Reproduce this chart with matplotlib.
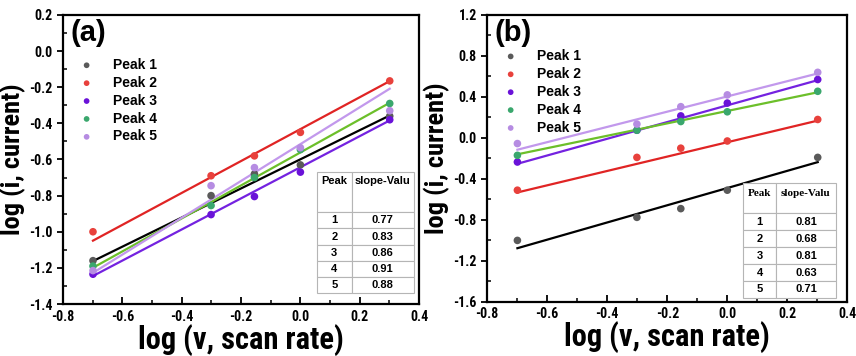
import numpy as np
import matplotlib
matplotlib.use('Agg')
import matplotlib.pyplot as plt

NARROW = ['Roboto Condensed', 'DejaVu Sans']
SANS = ['Liberation Sans', 'DejaVu Sans']
plt.rcParams['font.family'] = NARROW
plt.rcParams['font.weight'] = 'bold'

# scan rates (V/s) -> log
scan_rate = np.array([0.2, 0.5, 0.7, 1.0, 2.0])
log_v = np.log10(scan_rate)

peaks = ['Peak 1', 'Peak 2', 'Peak 3', 'Peak 4', 'Peak 5']

# panel (a) log(i)
a_peak1 = [-1.16, -0.80, -0.68, -0.63, -0.36]
a_peak2 = [-1.00, -0.69, -0.58, -0.45, -0.165]
a_peak3 = [-1.235, -0.905, -0.805, -0.67, -0.38]
a_peak4 = [-1.19, -0.855, -0.70, -0.545, -0.29]
a_peak5 = [-1.215, -0.745, -0.645, -0.535, -0.33]
# fitted lines (slope, intercept) as drawn
a_fit_slope = [0.806, 0.883, 0.861, 0.913, 1.019]
a_fit_icpt = [-0.599, -0.432, -0.643, -0.561, -0.515]
a_table = ['0.77', '0.83', '0.86', '0.91', '0.88']

# panel (b) log(i)
b_peak1 = [-1.00, -0.775, -0.69, -0.51, -0.19]
b_peak2 = [-0.51, -0.19, -0.10, -0.03, 0.18]
b_peak3 = [-0.235, 0.075, 0.215, 0.34, 0.57]
b_peak4 = [-0.17, 0.075, 0.16, 0.255, 0.455]
b_peak5 = [-0.055, 0.135, 0.305, 0.42, 0.64]
b_fit_slope = [0.84, 0.701, 0.816, 0.605, 0.744]
b_fit_icpt = [-0.489, -0.042, 0.318, 0.263, 0.405]
b_table = ['0.81', '0.68', '0.81', '0.63', '0.71']

pt_colors = ['#5a5a5a', '#e8413c', '#6a12d8', '#3aa76d', '#b68ce2']
ln_colors = ['#000000', '#e02424', '#7422e0', '#6cbf2a', '#c298ec']

fig = plt.figure(figsize=(8.56, 3.56), dpi=100)
ax1 = fig.add_axes([0.0736, 0.146, 0.416, 0.812])
ax2 = fig.add_axes([0.569, 0.152, 0.421, 0.806])


def fmt(v, pos):
    v = round(v, 2)
    return '%.1f' % (0.0 if v == 0 else v)


def draw(ax, data, slopes, icpts, vals, label, ylim, ymaj, ymin, leg_top, tab_box, head_ratio, serif_head):
    xf = np.array([log_v[0], log_v[-1]])
    for i, y in enumerate(data):
        ax.plot(xf, slopes[i] * xf + icpts[i], color=ln_colors[i], lw=1.6, zorder=2)
    for i, y in enumerate(data):
        ax.scatter(log_v, y, s=30, color=pt_colors[i], edgecolors='none', zorder=3, label=peaks[i])
    ax.set_xlim(-0.8, 0.4)
    ax.set_ylim(*ylim)
    ax.set_xticks(np.arange(-0.8, 0.41, 0.2))
    ax.set_xticks(np.arange(-0.7, 0.4, 0.2), minor=True)
    ax.set_yticks(np.arange(ylim[0], ylim[1] + 1e-6, ymaj))
    ax.set_yticks(np.arange(ylim[0] + ymin, ylim[1], ymaj), minor=True)
    ax.xaxis.set_major_formatter(plt.FuncFormatter(fmt))
    ax.yaxis.set_major_formatter(plt.FuncFormatter(fmt))
    ax.tick_params(axis='x', which='major', direction='in', length=5, width=1.3, labelsize=10, pad=4)
    ax.tick_params(axis='x', which='minor', direction='in', length=3, width=1.1)
    ax.tick_params(axis='y', which='major', direction='out', length=4, width=1.3, labelsize=10)
    ax.tick_params(axis='y', which='minor', direction='in', length=3, width=1.1)
    for s in ax.spines.values():
        s.set_linewidth(1.6)
    ax.set_xlabel('log (v, scan rate)', fontsize=22, fontweight='bold', labelpad=0)
    ax.set_ylabel('log (i, current)', fontsize=19, fontweight='bold', labelpad=2)
    ax.text(0.02, 0.985, label, transform=ax.transAxes, fontsize=21, fontweight='bold',
            family=SANS, va='top', ha='left')
    ax.legend(loc='upper left', bbox_to_anchor=(0.0, leg_top), frameon=False,
              markerscale=0.75, handletextpad=0.9, labelspacing=0.28,
              borderaxespad=0.3, prop={'weight': 'bold', 'size': 10, 'family': SANS})
    cells = [['Peak', 'slope-Valu']] + [[str(k + 1), v] for k, v in enumerate(vals)]
    tab = ax.table(cellText=cells, bbox=tab_box, cellLoc='center',
                   colWidths=[0.36, 0.64], zorder=4)
    tab.auto_set_font_size(False)
    for (r, c), cell in tab.get_celld().items():
        cell.set_edgecolor('#b5b5b5')
        cell.set_linewidth(0.8)
        cell.set_facecolor('white')
        t = cell.get_text()
        t.set_fontsize(8)
        t.set_fontweight('bold')
        t.set_family(SANS)
        if r == 0:
            cell.set_height(cell.get_height() * head_ratio)
            t.set_text(t.get_text() + ('\n\n' if head_ratio > 2 else '\n'))
            if serif_head:
                t.set_family(['Liberation Serif', 'DejaVu Serif'])


draw(ax1, [a_peak1, a_peak2, a_peak3, a_peak4, a_peak5], a_fit_slope, a_fit_icpt, a_table,
     '(a)', (-1.4, 0.2), 0.2, 0.1, 0.885, [0.713, 0.038, 0.272, 0.419], 2.5, False)
draw(ax2, [b_peak1, b_peak2, b_peak3, b_peak4, b_peak5], b_fit_slope, b_fit_icpt, b_table,
     '(b)', (-1.6, 1.2), 0.4, 0.2, 0.915, [0.71, 0.014, 0.257, 0.40], 1.8, True)

fig.savefig('out.png', dpi=100)
